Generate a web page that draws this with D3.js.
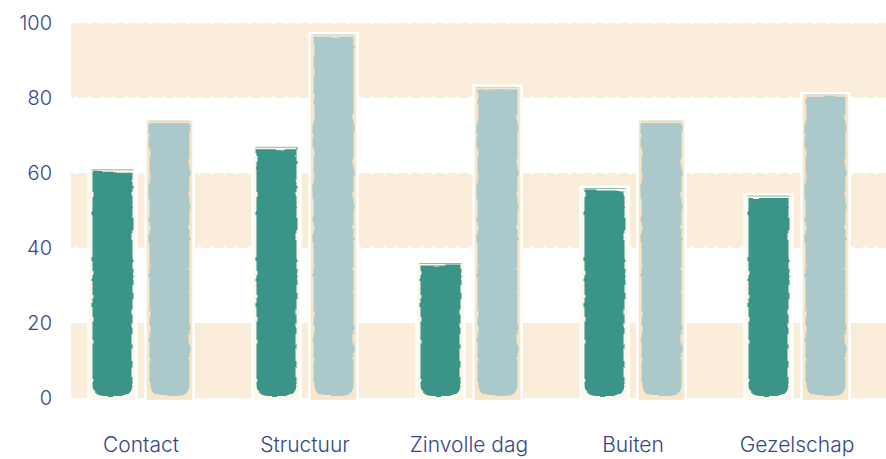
<!DOCTYPE html>
<html>
<head>
<meta charset="utf-8">
<script src="https://cdn.jsdelivr.net/npm/d3@7"></script>
<style>
  html, body { margin: 0; padding: 0; background: #ffffff; }
  svg { display: block; }
  .tick text { font-family: Inter, "Open Sans", sans-serif; font-weight: 300; fill: #34478a; }
</style>
</head>
<body>
<svg id="chart" width="886" height="459"></svg>
<script>
// Survey scores per theme, two series
const categories = ["Contact", "Structuur", "Zinvolle dag", "Buiten", "Gezelschap"];
const seriesKeys = ["a", "b"];
const seriesA = [61, 67, 36, 56, 54];
const seriesB = [74, 97, 83, 74, 81];
const yTicks = [0, 20, 40, 60, 80, 100];
const bandRanges = [[0, 20], [40, 60], [80, 100]];

const colors = { a: "#3a9488", b: "#abc9cb" };
const backdrops = { a: "#fdf6ea", b: "#f8e6c8" };
const bandColor = "#faeeda";

const svg = d3.select("#chart");
const W = 886;

const y = d3.scaleLinear().domain([0, 100]).range([398, 23]);
const x0 = d3.scaleBand().domain(categories).range([59, 879])
  .paddingInner(0.384).paddingOuter(0.192);
const x1 = d3.scaleBand().domain(seriesKeys).range([0, x0.bandwidth()])
  .paddingInner(0.228);

// Brush-stroke roughness for the painted bars
const defs = svg.append("defs");
const f = defs.append("filter").attr("id", "rough")
  .attr("x", "-15%").attr("y", "-5%").attr("width", "130%").attr("height", "110%");
f.append("feTurbulence").attr("type", "fractalNoise")
  .attr("baseFrequency", "0.04 0.09").attr("numOctaves", 2).attr("seed", 11).attr("result", "n");
f.append("feDisplacementMap").attr("in", "SourceGraphic").attr("in2", "n")
  .attr("scale", 4).attr("xChannelSelector", "R").attr("yChannelSelector", "G");

// Striped background bands with scalloped edges
const plotLeft = 71;
const bg = svg.append("g");
bandRanges.forEach(([lo, hi]) => {
  bg.append("rect")
    .attr("x", plotLeft).attr("y", y(hi))
    .attr("width", W - plotLeft).attr("height", y(lo) - y(hi))
    .attr("fill", bandColor);
});
const scallopX = d3.range(plotLeft + 6, W, 12.3);
bandRanges.filter(r => r[0] > 0).forEach(([lo, hi]) => {
  [y(hi), y(lo)].forEach(ey => {
    bg.selectAll(null).data(scallopX).join("circle")
      .attr("cx", d => d).attr("cy", ey).attr("r", 1.7).attr("fill", "#ffffff");
  });
});

// Bars
const rows = categories.map((c, i) => ({ cat: c, a: seriesA[i], b: seriesB[i] }));
const groups = svg.append("g").selectAll("g").data(rows).join("g")
  .attr("transform", d => `translate(${x0(d.cat)},0)`);

const bars = groups.selectAll("g").data(d => seriesKeys.map(k => ({ key: k, value: d[k] }))).join("g");

// white frame with backdrop
bars.append("rect")
  .attr("x", d => x1(d.key) - 2)
  .attr("y", d => y(d.value) - 1)
  .attr("width", x1.bandwidth() + 4)
  .attr("height", d => y(0) - y(d.value) + 4)
  .attr("fill", d => backdrops[d.key])
  .attr("stroke", "#ffffff").attr("stroke-width", 2.5);

// thin top rule in the series colour
bars.append("line")
  .attr("x1", d => x1(d.key) + 1).attr("x2", d => x1(d.key) + x1.bandwidth() - 1)
  .attr("y1", d => y(d.value) + 0.5).attr("y2", d => y(d.value) + 0.5)
  .attr("stroke", d => colors[d.key]).attr("stroke-opacity", 0.6).attr("stroke-width", 1);

// painted fill: rounded at the bottom like a brush stroke
function paintPath(d) {
  const bw = x1.bandwidth();
  const x = x1(d.key) + 2, w = bw - 4;
  const top = y(d.value) + 2.5, bot = y(0) - 2;
  const r = Math.min(12, (bot - top) / 2);
  return `M${x},${top} H${x + w} V${bot - r} Q${x + w},${bot} ${x + w - r},${bot} ` +
         `H${x + r} Q${x},${bot} ${x},${bot - r} Z`;
}
bars.append("path")
  .attr("d", paintPath)
  .attr("fill", d => colors[d.key])
  .attr("filter", "url(#rough)");

// Axes
const yAxis = d3.axisLeft(y).tickValues(yTicks).tickSize(0).tickPadding(0);
svg.append("g").attr("transform", "translate(52,0)").call(yAxis)
  .call(g => g.select(".domain").remove())
  .selectAll("text").attr("font-size", 20);

const xAxis = d3.axisBottom(x0).tickSize(0).tickPadding(0);
svg.append("g").attr("transform", "translate(0,437)").call(xAxis)
  .call(g => g.select(".domain").remove())
  .selectAll("text").attr("font-size", 21);
</script>
</body>
</html>
